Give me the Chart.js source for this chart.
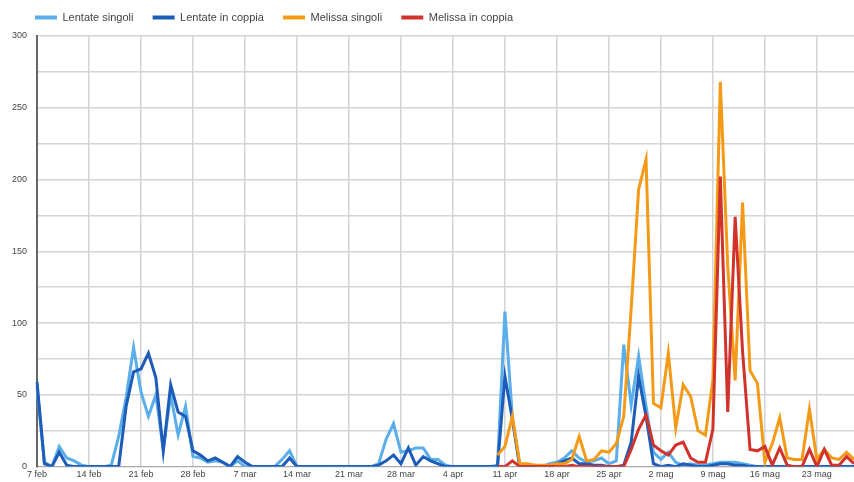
<!DOCTYPE html>
<html>
<head>
<meta charset="utf-8">
<script src="https://cdn.jsdelivr.net/npm/chart.js@4.4.1/dist/chart.umd.min.js"></script>
<style>
  body { margin: 0; background: #fff; }
  #wrap { width: 854px; height: 482px; }
</style>
</head>
<body>
<div id="wrap"><canvas id="chart" width="854" height="482"></canvas></div>
<script>
'use strict';

// Days from 7 feb to 28 mag, one point per day
let monthNames = ['gen', 'feb', 'mar', 'apr', 'mag', 'giu'];
let days = [];
let d = new Date(2021, 1, 7);
while (days.length < 111) {
  days.push(d.getDate() + ' ' + monthNames[d.getMonth()]);
  d.setDate(d.getDate() + 1);
}

// Only every 7th day gets a label
let tickLabels = ['7 feb', '14 feb', '21 feb', '28 feb', '7 mar', '14 mar', '21 mar', '28 mar',
  '4 apr', '11 apr', '18 apr', '25 apr', '2 mag', '9 mag', '16 mag', '23 mag'];

let lentateSingoli = [
  55, 3, 0, 14, 6, 4, 1, 0, 0, 0, 1, 21, 48, 83, 52, 35, 50, 12, 50, 22,
  42, 7, 6, 3, 4, 3, 0, 4, 0, 0, 0, 0, 0, 5, 11, 0, 0, 0, 0, 0,
  0, 0, 0, 0, 0, 0, 2, 19, 30, 10, 11, 13, 13, 5, 5, 1, 0, 0, 0, 0,
  0, 0, 1, 108, 35, 0, 0, 1, 0, 2, 3, 6, 11, 6, 3, 4, 6, 2, 4, 85,
  43, 77, 42, 10, 5, 10, 3, 1, 2, 1, 1, 2, 3, 3, 3, 2, 1, 0, 0, 0,
  0, 0, 0, 0, 0, 0, 0, 0, 0, 0, 0
];

let lentateCoppia = [
  59, 2, 0, 10, 1, 0, 0, 0, 0, 0, 0, 0, 42, 66, 68, 79, 62, 11, 57, 38,
  35, 11, 8, 4, 6, 3, 0, 7, 3, 0, 0, 0, 0, 0, 6, 0, 0, 0, 0, 0,
  0, 0, 0, 0, 0, 0, 1, 4, 8, 2, 13, 1, 7, 4, 2, 0, 0, 0, 0, 0,
  0, 0, 0, 63, 33, 0, 0, 0, 0, 0, 2, 4, 6, 2, 2, 1, 1, 0, 0, 1,
  17, 63, 35, 2, 0, 1, 0, 2, 1, 0, 0, 1, 2, 2, 1, 1, 0, 0, 0, 0,
  0, 0, 0, 0, 0, 0, 0, 0, 0, 0, 0
];

// Melissa starts on 10 apr (index 62)
let melissaSingoli = [
  null, null, null, null, null, null, null, null, null, null, null, null, null, null, null, null, null, null, null, null,
  null, null, null, null, null, null, null, null, null, null, null, null, null, null, null, null, null, null, null, null,
  null, null, null, null, null, null, null, null, null, null, null, null, null, null, null, null, null, null, null, null,
  null, null, 8, 14, 35, 2, 2, 1, 1, 1, 2, 2, 5, 21, 4, 5, 11, 10, 16, 35,
  110, 193, 214, 44, 41, 79, 27, 57, 49, 25, 22, 60, 268, 140, 60, 184, 67, 58, 3, 16,
  34, 6, 5, 5, 40, 5, 12, 6, 5, 10, 5
];

let melissaCoppia = [
  null, null, null, null, null, null, null, null, null, null, null, null, null, null, null, null, null, null, null, null,
  null, null, null, null, null, null, null, null, null, null, null, null, null, null, null, null, null, null, null, null,
  null, null, null, null, null, null, null, null, null, null, null, null, null, null, null, null, null, null, null, null,
  null, null, 0, 0, 4, 0, 0, 0, 0, 0, 0, 0, 1, 0, 0, 0, 0, 0, 0, 0,
  12, 26, 36, 15, 11, 8, 15, 17, 6, 3, 3, 26, 202, 38, 174, 80, 12, 11, 14, 1,
  13, 1, 0, 0, 12, 0, 12, 1, 1, 7, 2
];

function makeLine(label, data, color, order) {
  return {
    label: label,
    data: data,
    borderColor: color,
    backgroundColor: color,
    borderWidth: 3,
    pointRadius: 0,
    tension: 0,
    fill: false,
    order: order
  };
}

// Legend sits a little to the right and a bit taller than the default
let legendNudge = {
  id: 'legendNudge',
  afterInit: function (chart) {
    let fit = chart.legend.fit;
    chart.legend.fit = function () {
      fit.call(this);
      this.height += 3;
    };
  },
  afterLayout: function (chart) {
    chart.legend.left = 25;
  }
};

let ctx = document.getElementById('chart').getContext('2d');

new Chart(ctx, {
  type: 'line',
  data: {
    labels: days,
    datasets: [
      makeLine('Lentate singoli', lentateSingoli, '#5aaeea', 4),
      makeLine('Lentate in coppia', lentateCoppia, '#1d5cb8', 3),
      makeLine('Melissa singoli', melissaSingoli, '#f59a16', 2),
      makeLine('Melissa in coppia', melissaCoppia, '#d1332c', 1)
    ]
  },
  plugins: [legendNudge],
  options: {
    responsive: false,
    animation: false,
    devicePixelRatio: 1,
    layout: { padding: { left: 0, right: 0, top: 2, bottom: 0 } },
    plugins: {
      tooltip: { enabled: false },
      legend: {
        position: 'top',
        align: 'start',
        labels: {
          boxWidth: 22,
          boxHeight: 4,
          padding: 10,
          color: '#444',
          font: { family: 'Arial, "Liberation Sans", sans-serif', size: 11 },
          sort: function (a, b) { return a.datasetIndex - b.datasetIndex; },
          // a bit more room between the legend items
          generateLabels: function (chart) {
            let items = Chart.defaults.plugins.legend.labels.generateLabels(chart);
            items.forEach(function (it) { it.text = it.text + '   '; it.lineWidth = 0; });
            return items;
          }
        }
      }
    },
    scales: {
      x: {
        grid: {
          drawTicks: false,
          color: function (c) { return c.index % 7 === 0 ? '#d4d4d4' : 'rgba(0,0,0,0)'; },
          lineWidth: 1.5
        },
        border: { color: '#aaa', width: 1 },
        ticks: {
          autoSkip: false,
          maxRotation: 0,
          padding: 3,
          color: '#444',
          font: { family: 'Arial, "Liberation Sans", sans-serif', size: 9 },
          callback: function (v, i) { return i % 7 === 0 ? tickLabels[i / 7] : ''; }
        },
        afterFit: function (scale) {
          scale.height = 15;
          scale.paddingRight = 0;
        }
      },
      y: {
        min: 0,
        max: 300,
        grid: { drawTicks: false, color: '#d4d4d4', lineWidth: 1.5 },
        border: { color: '#666', width: 2 },
        ticks: {
          stepSize: 25,
          padding: 10,
          color: '#444',
          font: { family: 'Arial, "Liberation Sans", sans-serif', size: 9 },
          callback: function (v) { return v % 50 === 0 ? v : ''; }
        },
        afterFit: function (scale) { scale.width = 37; }
      }
    }
  }
});
</script>
</body>
</html>
